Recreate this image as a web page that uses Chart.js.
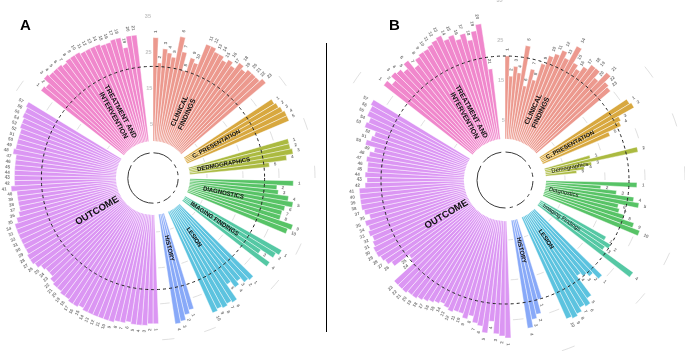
<!DOCTYPE html>
<html><head><meta charset="utf-8">
<script src="https://cdn.jsdelivr.net/npm/chart.js@4/dist/chart.umd.min.js"></script>
<style>
html,body{margin:0;padding:0;width:685px;height:351px;overflow:hidden;background:#fff;font-family:"Liberation Sans",Arial,sans-serif;}
#cA{position:absolute;left:-27px;top:-2px;}
#cB{position:absolute;left:313px;top:-12px;}
.tag{position:absolute;font-weight:bold;font-size:15px;color:#000;line-height:1;}
#sep{position:absolute;left:326px;top:43px;width:1.3px;height:289px;background:#000;}
</style></head>
<body>
<canvas id="cA" width="360" height="360"></canvas>
<canvas id="cB" width="384" height="384"></canvas>
<div id="sep"></div>
<div class="tag" style="left:20px;top:17px;">A</div>
<div class="tag" style="left:389px;top:17px;">B</div>
<script>
// ---------- data: panel A ----------
const clinicalA     = [29, 22, 26, 25, 24, 30, 26, 21, 25, 24, 30, 30, 29, 29, 28, 29, 28, 30, 29, 30, 30, 30, 31];
const presentationA = [29.5, 30, 30.5, 31, 31];
const demographicsA = [29, 29, 29.5, 27.5, 22.5];
const diagnosticsA  = [29, 24.5, 25, 28, 29.5, 27.5, 27, 27, 31, 30];
const imagingA      = [31, 30, 26, 30];
const lesionA       = [29, 28.5, 27, 28, 26, 31, 30.5, 31, 30.5, 31];
const historyA      = [28, 29, 30.5, 31];
const outcomeA      = [30.5, 30.5, 31, 31, 31, 30.5, 31, 31, 31.5, 31.5,
                       31.5, 31.5, 31.5, 31.5, 31, 31.5, 31.5, 31, 31, 30.5, 30.5,
                       30, 29, 29, 29.5, 30.5, 31, 31, 30.5,
                       30.5, 30.5, 30.5, 30.5, 30.5, 29.5, 28.5, 28,
                       28, 28, 28, 29.5, 28.5, 28.5, 28.5, 28.5, 28.5, 28.5,
                       29.5, 29, 29, 29, 29, 29.5, 29.5, 30, 30, 30.5];
const treatmentA    = [29.5, 29, 31, 30.5, 30.5, 30.5, 30, 30.5, 30.5, 30.5, 30, 30, 30, 30, 29.5, 29.5, 30, 30, 27, 30, 30];

// ---------- data: panel B ----------
const clinicalB     = [21, 16, 18.5, 17, 24, 14, 18.5, 16, 20.5, 23, 24, 25.5, 24, 28, 24, 23, 24.5, 26, 26, 24, 27, 25, 24.5];
const presentationB = [26.5, 27, 22.5, 22, 18.5];
const demographicsB = [12, 24, 12, 10, 8];
const diagnosticsB  = [23, 14, 18, 22.5, 24, 19, 19.5, 21, 24, 26];
const imagingB      = [19, 21, 20, 29.5];
const lesionB       = [24, 22, 21, 20, 26, 27.5, 27, 28, 28.5, 28];
const historyB      = [21, 24.5, 25.5, 27.5];
const outcomeB      = [29.5, 29, 28.5, 25.5, 28.5, 27, 26.5, 25, 26, 25,
                       25, 25.5, 25, 24.5, 25, 25.5, 26, 26.5, 27, 27,
                       27.5, 27.5, 27.5, 21, 20.5, 25, 26, 26.5, 27,
                       27, 26.5, 26, 26.5, 26, 26.5, 25, 26, 26.5, 26.5,
                       26.5, 26.5, 25, 24.5, 25, 24.5, 24.5, 25, 24.5, 23.5,
                       26, 25, 24.5, 27.5, 27, 28, 28, 28.5];
const treatmentB    = [28.5, 27, 28.5, 28, 27, 28.5, 26, 27.5, 28, 28, 28.5, 29, 29.5, 28, 28.5, 27, 28, 26, 28, 29.5, 18];

// ---------- labels ----------
const groupNamesA = [["CLINICAL","FINDINGS"], ["C. PRESENTATION"], ["DEDMOGRAPHICS"], ["DIAGNOSTICS"], ["IMAGING FINDINGS"], ["LESION"], ["HISTORY"], ["OUTCOME"], ["TREATMENT AND","INTERVENTION"]];
const groupNamesB = [["CLINICAL","FINDINGS"], ["C. PRESENTATION"], ["Demographics"], ["Diagnostics"], ["Imaging Findings"], ["LESION"], ["HISTORY"], ["OUTCOME"], ["TREATMENT AND","INTERVENTION"]];
const gridValues = [5, 15, 25, 35];
const gridLabels = ["5", "15", "25", "35"];
const referenceValue = 21;
const baseLineValue = -3;

// ---------- styles ----------
const groupColors = ['#EC998E', '#D8A83F', '#ABBA40', '#57C366', '#55C8A4', '#5CC3DF', '#88A9F8', '#DB96F3', '#F087CC'];
const GAP = 3;

function buildPanel(groups) {
  const vals = [], colors = [], ids = [], ranges = [];
  groups.forEach((arr, g) => {
    const start = vals.length;
    arr.forEach((v, i) => { vals.push(v); colors.push(groupColors[g]); ids.push(String(i + 1)); });
    ranges.push([start, vals.length - 1]);
    for (let k = 0; k < GAP; k++) { vals.push(null); colors.push('rgba(0,0,0,0)'); ids.push(''); }
  });
  return { vals, colors, ids, ranges };
}

const circPlugin = {
  id: 'circ',
  beforeDatasetsDraw(chart) {
    const o = chart.options.plugins.circ, s = chart.scales.r, ctx = chart.ctx;
    const els = chart.getDatasetMeta(0).data;
    const mid = i => (els[i].startAngle + els[i].endAngle) / 2;
    ctx.save();
    ctx.strokeStyle = '#d2d2d2'; ctx.lineWidth = 0.7;
    for (let g = 1; g < o.b.ranges.length; g++) {
      const a0 = mid(o.b.ranges[g - 1][1] + 1), a1 = mid(o.b.ranges[g][0] - 1);
      gridValues.forEach(v => {
        ctx.beginPath();
        ctx.arc(s.xCenter, s.yCenter, s.getDistanceFromCenterForValue(v), a0, a1);
        ctx.stroke();
      });
    }
    ctx.restore();
  },
  afterDatasetsDraw(chart) {
    const o = chart.options.plugins.circ, s = chart.scales.r, ctx = chart.ctx;
    const els = chart.getDatasetMeta(0).data;
    const cx = s.xCenter, cy = s.yCenter;
    const R = v => s.getDistanceFromCenterForValue(v);
    const mid = i => (els[i].startAngle + els[i].endAngle) / 2;
    ctx.save();
    // hole
    ctx.fillStyle = '#fff';
    ctx.beginPath(); ctx.arc(cx, cy, R(0.3), 0, Math.PI * 2); ctx.fill();
    // base segments
    ctx.strokeStyle = '#3a3a3a'; ctx.lineWidth = 1;
    o.b.ranges.forEach(r => {
      ctx.beginPath(); ctx.arc(cx, cy, R(baseLineValue), mid(r[0]), mid(r[1])); ctx.stroke();
    });
    // reference dashed circle
    ctx.setLineDash([3, 3]); ctx.strokeStyle = '#222'; ctx.lineWidth = 1;
    ctx.beginPath(); ctx.arc(cx, cy, R(referenceValue), 0, Math.PI * 2); ctx.stroke();
    ctx.setLineDash([]);
    // axis labels in last gap
    const last = els.length - 1, aL = mid(last);
    ctx.fillStyle = '#c4c4c4'; ctx.font = 'bold 5.5px "Liberation Sans", Arial, sans-serif';
    ctx.textAlign = 'right'; ctx.textBaseline = 'middle';
    gridValues.forEach((v, k) => {
      ctx.fillText(gridLabels[k], cx + R(v) * Math.cos(aL) + 1, cy + R(v) * Math.sin(aL));
    });
    // id labels
    ctx.fillStyle = 'rgba(60,60,60,0.7)'; ctx.font = 'bold 4.5px "Liberation Sans", Arial, sans-serif';
    o.b.vals.forEach((v, i) => {
      if (v === null) return;
      const a = mid(i), r = R(v + 1.3);
      const x = cx + r * Math.cos(a), y = cy + r * Math.sin(a);
      ctx.save(); ctx.translate(x, y);
      if (Math.cos(a) >= -0.001) { ctx.rotate(a); ctx.textAlign = 'left'; }
      else { ctx.rotate(a + Math.PI); ctx.textAlign = 'right'; }
      ctx.fillText(o.b.ids[i], 0, 0);
      ctx.restore();
    });
    // group labels
    ctx.fillStyle = '#111'; ctx.textAlign = 'center'; ctx.textBaseline = 'middle';
    o.b.ranges.forEach((rg, g) => {
      const a = (els[rg[0]].startAngle + els[rg[1]].endAngle) / 2;
      const r = R(o.cfg.labelValue[g]);
      const x = cx + r * Math.cos(a), y = cy + r * Math.sin(a);
      ctx.save(); ctx.translate(x, y);
      ctx.rotate(Math.cos(a) >= 0 ? a : a + Math.PI);
      ctx.font = o.cfg.fonts[g];
      const lines = o.names[g], lh = o.cfg.lineH[g];
      lines.forEach((t, k) => ctx.fillText(t, 0, (k - (lines.length - 1) / 2) * lh));
      ctx.restore();
    });
    ctx.restore();
  }
};

function makeChart(id, groups, names, cfg) {
  const b = buildPanel(groups);
  const data = b.vals.map(v => v === null ? cfg.min : v);
  return new Chart(document.getElementById(id), {
    type: 'polarArea',
    data: { labels: b.ids, datasets: [{ data, backgroundColor: b.colors, borderColor: '#ffffff', borderWidth: 0.45, borderJoinStyle: 'bevel' }] },
    options: {
      responsive: false, animation: false, events: [],
      layout: { padding: 0 },
      plugins: { legend: { display: false }, tooltip: { enabled: false }, circ: { b, names, cfg } },
      scales: { r: { min: cfg.min, max: cfg.max, startAngle: 0,
        ticks: { display: false }, grid: { display: false }, angleLines: { display: false }, pointLabels: { display: false } } }
    },
    plugins: [circPlugin]
  });
}

const F = '"Liberation Sans", Arial, sans-serif';
makeChart('cA',
  [clinicalA, presentationA, demographicsA, diagnosticsA, imagingA, lesionA, historyA, outcomeA, treatmentA],
  groupNamesA,
  { min: -10, max: 40,
    labelValue: [10, 10, 10, 10, 10.5, 10, 10, 8, 10.5],
    fonts: ['bold 7px ' + F, 'bold 6px ' + F, 'bold 6px ' + F, 'bold 6px ' + F, 'bold 6px ' + F, 'bold 6px ' + F, 'bold 6px ' + F, 'bold 9.5px ' + F, 'bold 7px ' + F],
    lineH: [8, 7, 7, 7, 7, 7, 7, 10, 8] });
makeChart('cB',
  [clinicalB, presentationB, demographicsB, diagnosticsB, imagingB, lesionB, historyB, outcomeB, treatmentB],
  groupNamesB,
  { min: -10, max: 38,
    labelValue: [9, 8.5, 6.5, 5, 7, 8, 8, 7, 9],
    fonts: ['bold 7px ' + F, 'bold 6px ' + F, '5.8px ' + F, '5.8px ' + F, '5.8px ' + F, 'bold 6px ' + F, 'bold 6px ' + F, 'bold 9.5px ' + F, 'bold 7px ' + F],
    lineH: [8, 7, 7, 7, 7, 7, 7, 10, 8] });
</script>
</body></html>
